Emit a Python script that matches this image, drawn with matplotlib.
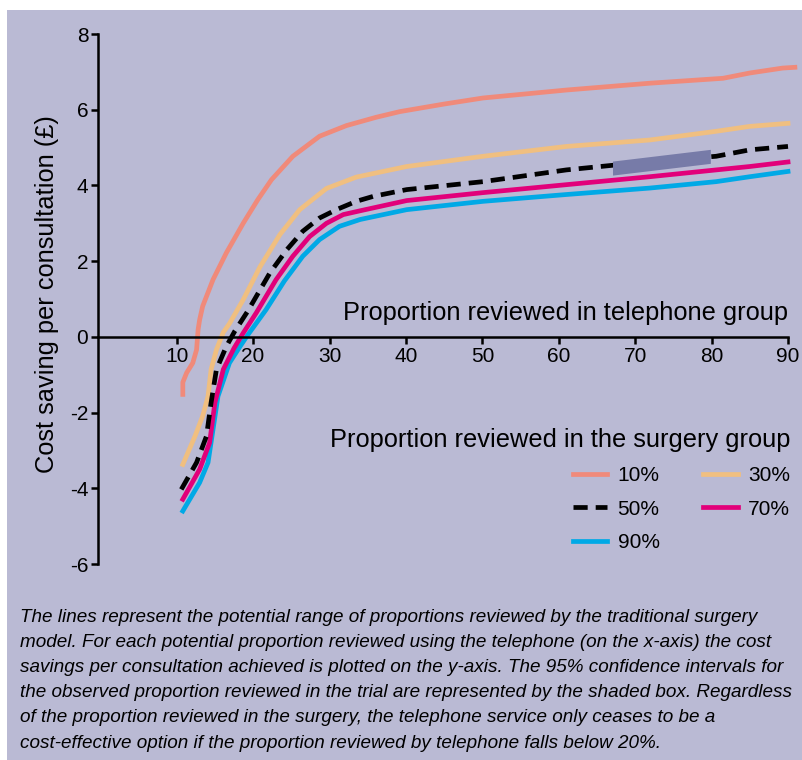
import matplotlib.pyplot as plt
from matplotlib.patches import Rectangle

plt.rcParams['font.family'] = ['Liberation Sans', 'DejaVu Sans']
plt.rcParams['axes.unicode_minus'] = False

# values
x10 = [10.8, 10.8, 11.3, 12.1, 12.6, 12.8, 13.0, 13.4, 14.75, 16.5, 18.7, 20.6, 22.4, 25.2, 28.7,
       32.2, 36.1, 39.2, 45.0, 50.1, 61.0, 71.9, 81.5, 85.0, 89.3, 90.9]
y10 = [-1.52, -1.2, -0.95, -0.69, -0.34, 0.19, 0.45, 0.81, 1.51, 2.22, 3.0, 3.62, 4.15, 4.77, 5.3,
       5.58, 5.8, 5.95, 6.15, 6.31, 6.52, 6.70, 6.83, 6.97, 7.10, 7.12]

x30 = [10.8, 12.4, 13.4, 14.1, 14.5, 15.2, 16.1, 16.9, 18.7, 20.9, 23.5, 26.1, 29.6, 33.5,
       40.1, 50.1, 61.0, 71.9, 80.6, 85.0, 90.0]
y30 = [-3.37, -2.62, -2.09, -1.57, -0.86, -0.34, 0.12, 0.35, 0.98, 1.85, 2.7, 3.36, 3.92, 4.22,
       4.5, 4.77, 5.03, 5.2, 5.43, 5.56, 5.64]

x50 = [10.6, 12.6, 13.9, 14.5, 15.2, 16.5, 17.6, 19.3, 22.2, 24.4, 26.5, 28.7, 30.9, 33.5,
       35.7, 40.1, 50.1, 61.0, 71.9, 80.6, 85.0, 90.0]
y50 = [-4.03, -3.32, -2.62, -1.74, -0.86, -0.25, 0.15, 0.68, 1.69, 2.3, 2.79, 3.14, 3.36, 3.58,
       3.71, 3.89, 4.1, 4.41, 4.63, 4.77, 4.94, 5.03]

x70 = [10.8, 13.0, 14.3, 15.0, 16.1, 17.5, 18.7, 20.4, 23.0, 25.2, 27.4, 29.6, 31.8, 34.0,
       40.1, 50.1, 61.0, 71.9, 80.6, 85.0, 90.0]
y70 = [-4.29, -3.5, -2.8, -1.74, -0.86, -0.3, 0.1, 0.63, 1.51, 2.13, 2.65, 3.0, 3.23, 3.33,
       3.6, 3.81, 4.02, 4.23, 4.41, 4.5, 4.62]

x90 = [10.8, 13.0, 14.1, 14.75, 15.4, 16.9, 18.3, 19.3, 21.7, 24.1, 26.5, 28.7, 31.3, 34.0,
       40.1, 50.1, 61.0, 71.9, 80.6, 85.0, 90.0]
y90 = [-4.6, -3.85, -3.32, -2.45, -1.57, -0.69, -0.25, 0.05, 0.72, 1.48, 2.13, 2.57, 2.92, 3.1,
       3.36, 3.58, 3.76, 3.93, 4.1, 4.23, 4.37]

# 95% CI box for the observed trial proportion
box_x = [67.1, 79.9, 79.9, 67.1]
box_y = [4.26, 4.57, 4.94, 4.63]

xticks = [10, 20, 30, 40, 50, 60, 70, 80, 90]
yticks = [-6, -4, -2, 0, 2, 4, 6, 8]

caption = [
    "The lines represent the potential range of proportions reviewed by the traditional surgery",
    "model. For each potential proportion reviewed using the telephone (on the x-axis) the cost",
    "savings per consultation achieved is plotted on the y-axis. The 95% confidence intervals for",
    "the observed proportion reviewed in the trial are represented by the shaded box. Regardless",
    "of the proportion reviewed in the surgery, the telephone service only ceases to be a",
    "cost-effective option if the proportion reviewed by telephone falls below 20%.",
]

bg = '#babad4'
fig = plt.figure(figsize=(8.03, 7.60), dpi=100, facecolor='white')
fig.patches.append(Rectangle((7 / 803, 0), 1, 1 - 10 / 760, transform=fig.transFigure,
                             facecolor=bg, edgecolor='none', zorder=-10))

ax = fig.add_axes([98 / 803, 1 - 564 / 760, 690 / 803, 530 / 760])
ax.set_facecolor('none')
ax.set_xlim(-0.3, 90)
ax.set_ylim(-6, 8)

lw = 3.4
ax.fill(box_x, box_y, color='#777ba8', zorder=4, lw=0)
ax.plot(x10, y10, color='#f08a7a', lw=lw, label='10%', clip_on=False)
ax.plot(x30, y30, color='#f0bf80', lw=lw, label='30%', clip_on=False)
ax.plot(x90, y90, color='#00a9e6', lw=lw, label='90%', clip_on=False)
ax.plot(x70, y70, color='#e2007a', lw=lw, label='70%', clip_on=False)
ax.plot(x50, y50, color='black', lw=lw, ls=(0, (3.0, 1.7)), label='50%', clip_on=False)

for side in ['top', 'right']:
    ax.spines[side].set_visible(False)
ax.spines['bottom'].set_position(('data', 0))
ax.spines['left'].set_linewidth(1.8)
ax.spines['bottom'].set_linewidth(1.8)

ax.set_xticks(xticks)
ax.set_yticks(yticks)
ax.tick_params(axis='both', labelsize=15, width=1.8, length=5, color='black', pad=2)

ax.text(90, 0.64, 'Proportion reviewed in telephone group', ha='right', va='center',
        fontsize=18.3)

fig.text(47 / 803, 1 - 294 / 760, 'Cost saving per consultation (£)', rotation=90,
         ha='center', va='center', fontsize=18.3)

handles, labels = ax.get_legend_handles_labels()
order = {l: h for h, l in zip(handles, labels)}
names = ['10%', '50%', '90%', '30%', '70%']
leg = ax.legend([order[n] for n in names], names, ncol=2, frameon=False,
                title='Proportion reviewed in the surgery group',
                title_fontproperties={'size': 18.3},
                fontsize=15, alignment='right', loc='upper right',
                bbox_to_anchor=(1.003, (564 - 428) / 530), borderpad=0, borderaxespad=0,
                handlelength=1.65, handletextpad=0.5, columnspacing=2.1, labelspacing=0.69)

for i, line in enumerate(caption):
    fig.text(20 / 803, 1 - (617 + i * 25.2) / 760, line, ha='left', va='center',
             fontsize=13.6, style='italic')

fig.savefig('out.png', dpi=100, facecolor='white')
